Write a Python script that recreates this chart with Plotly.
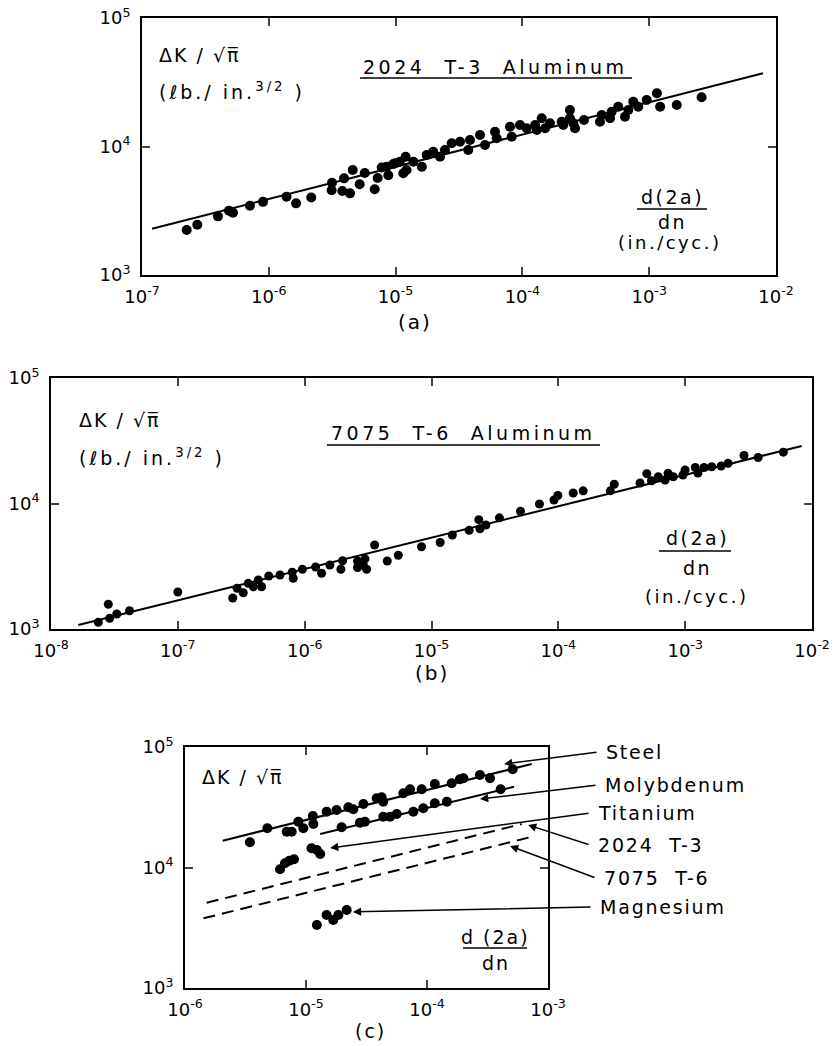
import math
import plotly.graph_objects as go

W, H = 838, 1046
FONT = "DejaVu Sans"

# ---------------- data ----------------
# (a) 2024 T-3 Aluminum : crack growth rate d(2a)/dn (in./cyc.) vs dK/sqrt(pi)
a_rate = [2.25e-7, 2.73e-7, 3.97e-7, 4.85e-7, 5.22e-7, 7.1e-7, 9.0e-7, 1.38e-6, 1.64e-6, 2.16e-6,
          3.15e-6, 3.13e-6, 3.92e-6, 3.80e-6, 4.37e-6, 4.59e-6, 5.21e-6, 5.71e-6, 6.84e-6, 7.22e-6,
          7.77e-6, 8.76e-6, 9.6e-6, 1.08e-5, 1.20e-5, 1.22e-5, 8.5e-6, 9.9e-6, 1.15e-5, 1.38e-5,
          1.61e-5, 1.76e-5, 1.98e-5, 2.24e-5, 2.45e-5, 2.77e-5, 3.22e-5, 3.74e-5, 3.86e-5, 4.63e-5,
          5.07e-5, 6.08e-5, 6.27e-5, 7.98e-5, 8.24e-5, 9.57e-5, 1.08e-4, 1.26e-4, 1.30e-4, 1.42e-4,
          1.51e-4, 1.65e-4, 2.04e-4, 2.10e-4, 2.37e-4, 2.37e-4, 2.52e-4, 2.60e-4, 3.06e-4, 4.09e-4,
          4.22e-4, 4.91e-4, 5.06e-4, 5.7e-4, 6.44e-4, 6.84e-4, 7.49e-4, 8.2e-4, 9.55e-4, 1.15e-3,
          1.22e-3, 1.65e-3, 2.59e-3]
a_dk = [2240, 2460, 2860, 3160, 3050, 3460, 3710, 4070, 3610, 4010,
        5230, 4560, 5650, 4510, 4320, 6560, 5090, 6220, 4650, 5690,
        6860, 5980, 7310, 7620, 8330, 6560, 6960, 7400, 6190, 7620,
        6960, 8590, 9110, 8330, 9390, 10590, 10900, 9390, 11230, 12290,
        10270, 13030, 11580, 14260, 11910, 14700, 13860, 14700, 13440, 16580,
        13860, 15150, 15600, 14700, 19230, 16580, 15150, 13860, 16070, 15600,
        17580, 16580, 18660, 20400, 17060, 19230, 22320, 20400, 23010, 25940,
        20400, 21040, 24150]
a_fit_rate = [1.2e-7, 7.9e-3]
a_fit_dk = [2290, 37150]

# (b) 7075 T-6 Aluminum
b_rate = [2.36e-8, 2.83e-8, 2.90e-8, 3.30e-8, 4.16e-8, 1.0e-7, 2.71e-7, 2.93e-7, 3.28e-7, 3.59e-7,
          3.94e-7, 4.31e-7, 4.58e-7, 5.21e-7, 6.39e-7, 7.98e-7, 8.13e-7, 9.6e-7, 1.22e-6, 1.36e-6,
          1.58e-6, 1.99e-6, 1.93e-6, 2.61e-6, 2.61e-6, 2.90e-6, 3.08e-6, 2.99e-6, 3.56e-6, 4.48e-6,
          5.47e-6, 8.34e-6, 1.17e-5, 1.46e-5, 1.98e-5, 2.36e-5, 2.41e-5, 2.68e-5, 3.43e-5, 5.03e-5,
          7.1e-5, 9.24e-5, 9.91e-5, 1.31e-4, 1.57e-4, 2.57e-4, 2.76e-4, 4.41e-4, 4.98e-4, 5.42e-4,
          6.14e-4, 6.94e-4, 7.33e-4, 8.06e-4, 9.6e-4, 9.98e-4, 1.20e-3, 1.26e-3, 1.41e-3, 1.62e-3,
          1.92e-3, 2.18e-3, 2.91e-3, 3.76e-3, 5.94e-3]
b_dk = [1130, 1576, 1217, 1317, 1399, 1972, 1766, 2110, 1943, 2312,
        2173, 2457, 2173, 2644, 2692, 2835, 2535, 2990, 3119, 2779,
        3236, 3500, 2990, 3482, 3090, 3236, 2990, 3625, 4670, 3482,
        3866, 4527, 4890, 5610, 6115, 7430, 6290, 6740, 7690, 8680,
        9910, 10660, 11580, 12130, 12620, 12620, 14250, 14570, 17290, 15170,
        16350, 15390, 17400, 16350, 16870, 18490, 19360, 17500, 19360, 19640,
        19900, 20900, 24120, 23260, 25640]
b_fit_rate = [1.64e-8, 8.3e-3]
b_fit_dk = [1076, 28700]

# (c) comparison of materials
steel_rate = [3.44e-6, 4.79e-6, 6.93e-6, 7.62e-6, 8.64e-6, 9.5e-6, 1.14e-5, 1.15e-5, 1.48e-5, 1.79e-5,
              2.24e-5, 2.46e-5, 2.98e-5, 3.84e-5, 4.22e-5, 4.35e-5, 6.37e-5, 7.24e-5, 9.04e-5, 1.16e-4,
              1.60e-4, 1.87e-4, 2.0e-4, 2.74e-4, 3.32e-4, 5.11e-4]
steel_dk = [16190, 21150, 19820, 19820, 23990, 21150, 26760, 22960, 29040, 30000,
            31600, 30400, 33650, 37500, 38240, 35160, 41280, 44570, 44570, 49300,
            50000, 53950, 54980, 58560, 54980, 65300]
steel_fit_rate = [2.05e-6, 7.33e-4]
steel_fit_dk = [16700, 72300]

moly_rate = [1.97e-5, 2.79e-5, 3.07e-5, 4.35e-5, 4.95e-5, 5.62e-5, 7.71e-5, 9.32e-5, 1.16e-4, 1.46e-4, 4.06e-4]
moly_dk = [21560, 23540, 23990, 26410, 26410, 27800, 29040, 30980, 34100, 35170, 44570]
moly_fit_rate = [1.31e-5, 5.24e-4]
moly_fit_dk = [18970, 46830]

ti_rate = [6.1e-6, 6.7e-6, 7.28e-6, 7.96e-6, 1.11e-5, 1.23e-5, 1.31e-5]
ti_dk = [9660, 10840, 11390, 11700, 14430, 13970, 12940]

mg_rate = [1.23e-5, 1.48e-5, 1.68e-5, 1.85e-5, 2.17e-5]
mg_dk = [3330, 4030, 3670, 4030, 4440]

al2024_fit_rate = [1.51e-6, 6.07e-4]
al2024_fit_dk = [5100, 22970]
al7075_fit_rate = [1.42e-6, 7.1e-4]
al7075_fit_dk = [3785, 17810]

c_labels = ["Steel", "Molybdenum", "Titanium", "2024  T-3", "7075  T-6", "Magnesium"]
c_arrow_rate = [4.33e-4, 2.74e-4, 1.58e-5, 6.84e-4, 4.85e-4, 2.44e-5]
c_arrow_dk = [72300, 37000, 14520, 22540, 15070, 4280]

# tick labels
xa_vals = [1e-7, 1e-6, 1e-5, 1e-4, 1e-3, 1e-2]
xa_text = ["10<sup>-7</sup>", "10<sup>-6</sup>", "10<sup>-5</sup>", "10<sup>-4</sup>", "10<sup>-3</sup>", "10<sup>-2</sup>"]
xb_vals = [1e-8, 1e-7, 1e-6, 1e-5, 1e-4, 1e-3, 1e-2]
xb_text = ["10<sup>-8</sup>"] + xa_text
xc_vals = [1e-6, 1e-5, 1e-4, 1e-3]
xc_text = ["10<sup>-6</sup>", "10<sup>-5</sup>", "10<sup>-4</sup>", "10<sup>-3</sup>"]
y_vals = [1e3, 1e4, 1e5]
y_text = ["10<sup>3</sup>", "10<sup>4</sup>", "10<sup>5</sup>"]

# ---------------- figure ----------------
def P(px, py):
    return px / W, 1 - py / H

fig = go.Figure()

fig.add_trace(go.Scatter(x=a_fit_rate, y=a_fit_dk, mode="lines", line=dict(color="black", width=2), xaxis="x", yaxis="y"))
fig.add_trace(go.Scatter(x=a_rate, y=a_dk, mode="markers", marker=dict(color="black", size=10), xaxis="x", yaxis="y"))

fig.add_trace(go.Scatter(x=b_fit_rate, y=b_fit_dk, mode="lines", line=dict(color="black", width=2), xaxis="x2", yaxis="y2"))
fig.add_trace(go.Scatter(x=b_rate, y=b_dk, mode="markers", marker=dict(color="black", size=9), xaxis="x2", yaxis="y2"))

for fx, fy, dash in [(steel_fit_rate, steel_fit_dk, "solid"), (moly_fit_rate, moly_fit_dk, "solid"),
                     (al2024_fit_rate, al2024_fit_dk, "12px,7px"), (al7075_fit_rate, al7075_fit_dk, "12px,7px")]:
    fig.add_trace(go.Scatter(x=fx, y=fy, mode="lines", line=dict(color="black", width=2, dash=dash), xaxis="x3", yaxis="y3"))
for sx, sy in [(steel_rate, steel_dk), (moly_rate, moly_dk), (ti_rate, ti_dk), (mg_rate, mg_dk)]:
    fig.add_trace(go.Scatter(x=sx, y=sy, mode="markers", marker=dict(color="black", size=10), xaxis="x3", yaxis="y3"))

TICKFONT = dict(family=FONT, size=18, color="black")

def xax(dom, rng, vals, text, anchor):
    return dict(domain=dom, type="log", range=rng, tickmode="array", tickvals=vals, ticktext=text,
                ticks="inside", ticklen=8, tickwidth=2, showline=True, linewidth=2, linecolor="black",
                mirror="ticks", showgrid=False, zeroline=False, anchor=anchor, automargin=False,
                tickfont=TICKFONT, ticklabelstandoff=4, ticklabeloverflow="allow")

def yax(dom, anchor):
    return dict(domain=dom, type="log", range=[3, 5], tickmode="array", tickvals=y_vals, ticktext=y_text,
                ticks="inside", ticklen=8, tickwidth=2, showline=True, linewidth=2, linecolor="black",
                mirror="ticks", showgrid=False, zeroline=False, anchor=anchor, automargin=False,
                tickfont=TICKFONT, ticklabelstandoff=6, ticklabeloverflow="allow")

fig.update_layout(
    width=W, height=H, margin=dict(l=0, r=0, t=0, b=0, autoexpand=False),
    paper_bgcolor="white", plot_bgcolor="white", showlegend=False,
    xaxis=xax([142 / W, 776 / W], [-7, -2], xa_vals, xa_text, "y"),
    yaxis=yax([1 - 275 / H, 1 - 18 / H], "x"),
    xaxis2=xax([51 / W, 812 / W], [-8, -2], xb_vals, xb_text, "y2"),
    yaxis2=yax([1 - 629 / H, 1 - 378 / H], "x2"),
    xaxis3=xax([185 / W, 548 / W], [-6, -3], xc_vals, xc_text, "y3"),
    yaxis3=yax([1 - 988 / H, 1 - 747 / H], "x3"),
)

ann = []
shapes = []

def text(px, py, s, size=19, anchor="left", ls=2.0):
    x, y = P(px, py)
    ann.append(dict(x=x, y=y, xref="paper", yref="paper",
                    text="<span style='letter-spacing:%.1fpx'>%s</span>" % (ls, s), showarrow=False,
                    xanchor=anchor, yanchor="middle", font=dict(family=FONT, size=size, color="black")))

def hline(x0, x1, py, w=1.6):
    shapes.append(dict(type="line", xref="paper", yref="paper", x0=x0 / W, x1=x1 / W,
                       y0=1 - py / H, y1=1 - py / H, line=dict(color="black", width=w)))

dk_label = "ΔK / √π\u0305"
unit_label = "(ℓb./ in.<sup>3/2</sup> )"

# panel (a)
text(157, 55, dk_label, 19, ls=2)
text(157, 91, unit_label, 19, ls=3)
text(496, 67, "2024  T-3  Aluminum", 19, "center", ls=3.5)
hline(360, 632, 78)
text(672, 197, "d(2a)", 19, "center", ls=2.5)
hline(637, 707, 209)
text(672, 222, "dn", 19, "center", ls=2.5)
text(669, 243, "(in./cyc.)", 18, "center", ls=2.5)
text(415, 322, "(a)", 20, "center", ls=2)

# panel (b)
text(77, 420, dk_label, 19, ls=2)
text(77, 457, unit_label, 19, ls=3)
text(463, 433, "7075  T-6  Aluminum", 19, "center", ls=3.5)
hline(327, 600, 445)
text(697, 538, "d(2a)", 19, "center", ls=2.5)
hline(659, 731, 551)
text(697, 568, "dn", 19, "center", ls=2.5)
text(696, 596, "(in./cyc.)", 18, "center", ls=2.5)
text(432, 673, "(b)", 20, "center", ls=2)

# panel (c)
text(200, 777, dk_label, 19, ls=2)
text(496, 937, "d (2a)", 19, "center", ls=2)
hline(463, 527, 948)
text(496, 963, "dn", 19, "center", ls=2)
text(370, 1031, "(c)", 19, "center", ls=2)

label_py = [752, 785, 813, 845, 878, 907]
tail_px = [598, 597, 590, 590, 596, 592]
for lab, r, k, lpy, tpx in zip(c_labels, c_arrow_rate, c_arrow_dk, label_py, tail_px):
    text(tpx + 6, lpy, lab, 19, ls=1.8)
    hx = 185 + (math.log10(r) + 6) * 121
    hy = 988 - (math.log10(k) - 3) * 120.5
    ann.append(dict(x=math.log10(r), y=math.log10(k), xref="x3", yref="y3", text="", showarrow=True,
                    ax=tpx - hx, ay=lpy - hy, arrowhead=2, arrowsize=1.1, arrowwidth=1.5,
                    arrowcolor="black", standoff=0, startstandoff=0))

fig.update_layout(annotations=ann, shapes=shapes)
fig.write_html("out.html", config={"displayModeBar": False},
               post_script="document.body.style.margin='0';document.body.style.padding='0';"
                           "document.body.style.overflow='hidden';")
